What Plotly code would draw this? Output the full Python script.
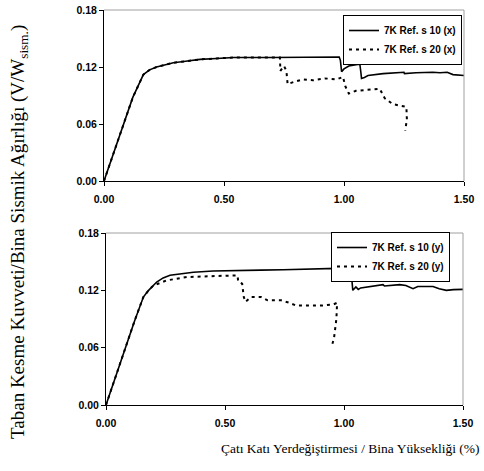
import plotly.graph_objects as go

# ---- data (top panel, x direction) ----
x10_top = [0, 0.04, 0.08, 0.12, 0.164, 0.19, 0.219, 0.25, 0.289, 0.34, 0.4, 0.47, 0.54, 0.7, 0.85, 0.98,
           0.985, 0.99, 1.0, 1.02, 1.05, 1.066, 1.070, 1.073, 1.085, 1.1, 1.163, 1.232, 1.25, 1.252, 1.3,
           1.37, 1.40, 1.43, 1.454, 1.5]
y10_top = [0, 0.03, 0.06, 0.088, 0.112, 0.117, 0.12, 0.122, 0.1245, 0.126, 0.128, 0.129, 0.13, 0.13, 0.1305,
           0.1305, 0.127, 0.115, 0.118, 0.121, 0.1225, 0.123, 0.115, 0.108, 0.109, 0.111, 0.113, 0.114, 0.1145,
           0.113, 0.114, 0.1145, 0.114, 0.1145, 0.112, 0.111]
x20_top = [0, 0.04, 0.08, 0.12, 0.164, 0.19, 0.219, 0.25, 0.289, 0.34, 0.4, 0.47, 0.54, 0.7, 0.733, 0.735,
           0.745, 0.75, 0.76, 0.765, 0.8, 0.83, 0.87, 0.92, 0.97, 0.996, 1.005, 1.02, 1.05, 1.1, 1.149, 1.17,
           1.203, 1.24, 1.26, 1.262, 1.255]
y20_top = [0, 0.03, 0.06, 0.088, 0.112, 0.117, 0.12, 0.122, 0.1245, 0.126, 0.128, 0.129, 0.13, 0.13, 0.13,
           0.116, 0.12, 0.121, 0.116, 0.102, 0.105, 0.107, 0.106, 0.108, 0.107, 0.1096, 0.1, 0.092, 0.095,
           0.096, 0.097, 0.087, 0.081, 0.079, 0.078, 0.065, 0.053]

# ---- data (bottom panel, y direction) ----
x10_bot = [0, 0.04, 0.08, 0.12, 0.157, 0.178, 0.213, 0.24, 0.269, 0.32, 0.367, 0.45, 0.534, 0.65, 0.744,
           0.884, 0.968, 0.972, 0.979, 0.99, 1.01, 1.031, 1.034, 1.037, 1.05, 1.06, 1.07, 1.094, 1.164, 1.17,
           1.234, 1.26, 1.29, 1.31, 1.374, 1.40, 1.43, 1.46, 1.5]
y10_bot = [0, 0.03, 0.06, 0.088, 0.113, 0.1197, 0.1287, 0.133, 0.1357, 0.1375, 0.139, 0.1402, 0.1409, 0.1412,
           0.1416, 0.142, 0.143, 0.138, 0.1304, 0.132, 0.1357, 0.1367, 0.128, 0.12, 0.1235, 0.121, 0.1225,
           0.1235, 0.126, 0.1245, 0.126, 0.125, 0.1217, 0.124, 0.124, 0.1217, 0.12, 0.1207, 0.121]
x20_bot = [0, 0.04, 0.08, 0.12, 0.157, 0.178, 0.199, 0.255, 0.339, 0.465, 0.552, 0.556, 0.565, 0.572, 0.579,
           0.586, 0.61, 0.651, 0.679, 0.735, 0.77, 0.8, 0.9, 0.955, 0.971, 0.968, 0.958, 0.948]
y20_bot = [0, 0.03, 0.06, 0.088, 0.113, 0.1197, 0.125, 0.1304, 0.1339, 0.135, 0.1357, 0.129, 0.128, 0.127,
           0.113, 0.108, 0.113, 0.113, 0.1095, 0.1096, 0.107, 0.104, 0.104, 0.1052, 0.107, 0.09, 0.07, 0.061]

names_top = ["7K Ref. s 10 (x)", "7K Ref. s 20 (x)"]
names_bot = ["7K Ref. s 10 (y)", "7K Ref. s 20 (y)"]
x_ticks = [0, 0.5, 1.0, 1.5]
x_tick_labels = ["0.00", "0.50", "1.00", "1.50"]
y_ticks = [0, 0.06, 0.12, 0.18]
y_tick_labels = ["0.00", "0.06", "0.12", "0.18"]

W, H = 484, 471
fig = go.Figure()

solid = dict(color="black", width=1.6)
dotted = dict(color="black", width=2, dash="3px,4px")

fig.add_trace(go.Scatter(x=x10_top, y=y10_top, mode="lines", line=solid, name=names_top[0],
                         xaxis="x", yaxis="y", legend="legend"))
fig.add_trace(go.Scatter(x=x20_top, y=y20_top, mode="lines", line=dotted, name=names_top[1],
                         xaxis="x", yaxis="y", legend="legend"))
fig.add_trace(go.Scatter(x=x10_bot, y=y10_bot, mode="lines", line=solid, name=names_bot[0],
                         xaxis="x2", yaxis="y2", legend="legend2"))
fig.add_trace(go.Scatter(x=x20_bot, y=y20_bot, mode="lines", line=dotted, name=names_bot[1],
                         xaxis="x2", yaxis="y2", legend="legend2"))

tickfont = dict(family="Liberation Sans", size=10.5, color="black", weight="bold")

def xa(domain, anchor):
    return dict(domain=domain, anchor=anchor, range=[0, 1.5], tickvals=x_ticks, ticktext=x_tick_labels,
                showgrid=False, zeroline=False, showline=True, linecolor="black", linewidth=1,
                ticks="outside", ticklen=4, tickcolor="black", tickfont=tickfont, automargin=False,
                ticklabelstandoff=4)

def ya(domain, anchor):
    return dict(domain=domain, anchor=anchor, range=[0, 0.18], tickvals=y_ticks, ticktext=y_tick_labels,
                showgrid=False, zeroline=False, showline=True, linecolor="black", linewidth=1,
                ticks="outside", ticklen=4, tickcolor="black", tickfont=tickfont, automargin=False)

legfont = dict(family="Liberation Sans", size=10, color="black", weight="bold")

fig.update_layout(
    width=W, height=H, margin=dict(l=0, r=0, t=0, b=0, autoexpand=False),
    paper_bgcolor="white", plot_bgcolor="white",
    xaxis=xa([104 / W, 464 / W], "y"),
    yaxis=ya([1 - 181 / H, 1 - 10 / H], "x"),
    xaxis2=xa([106 / W, 463 / W], "y2"),
    yaxis2=ya([1 - 405 / H, 1 - 233 / H], "x2"),
    legend=dict(x=462 / W, y=1 - 15 / H, xanchor="right", yanchor="top", bgcolor="white",
                bordercolor="black", borderwidth=1, font=legfont, tracegroupgap=0),
    legend2=dict(x=450 / W, y=1 - 232 / H, xanchor="right", yanchor="top", bgcolor="white",
                 bordercolor="black", borderwidth=1, font=legfont, tracegroupgap=0),
    showlegend=True,
)

# grey top/right frame
for xr, yr in [("x domain", "y domain"), ("x2 domain", "y2 domain")]:
    fig.add_shape(type="line", xref=xr, yref=yr, x0=0, x1=1, y0=1, y1=1, line=dict(color="#a0a0a0", width=1))
    fig.add_shape(type="line", xref=xr, yref=yr, x0=1, x1=1, y0=0, y1=1, line=dict(color="#a0a0a0", width=1))

fig.add_annotation(text="Taban Kesme Kuvveti/Bina Sismik Ağırlığı (V/W<sub>sism.</sub>)",
                   xref="paper", yref="paper", x=19 / W, y=1 - 232 / H, textangle=-90,
                   showarrow=False, font=dict(family="Liberation Serif", size=19, color="black"),
                   xanchor="center", yanchor="middle")
fig.add_annotation(text="Çatı Katı Yerdeğiştirmesi / Bina Yüksekliği (%)",
                   xref="paper", yref="paper", x=350 / W, y=1 - 448 / H,
                   showarrow=False, font=dict(family="Liberation Serif", size=13.5, color="black"),
                   xanchor="center", yanchor="middle")

fig.write_html("out.html", config={"displayModeBar": False},
               post_script="document.body.style.margin='0';document.body.style.padding='0';"
                           "document.body.style.overflow='hidden';")
